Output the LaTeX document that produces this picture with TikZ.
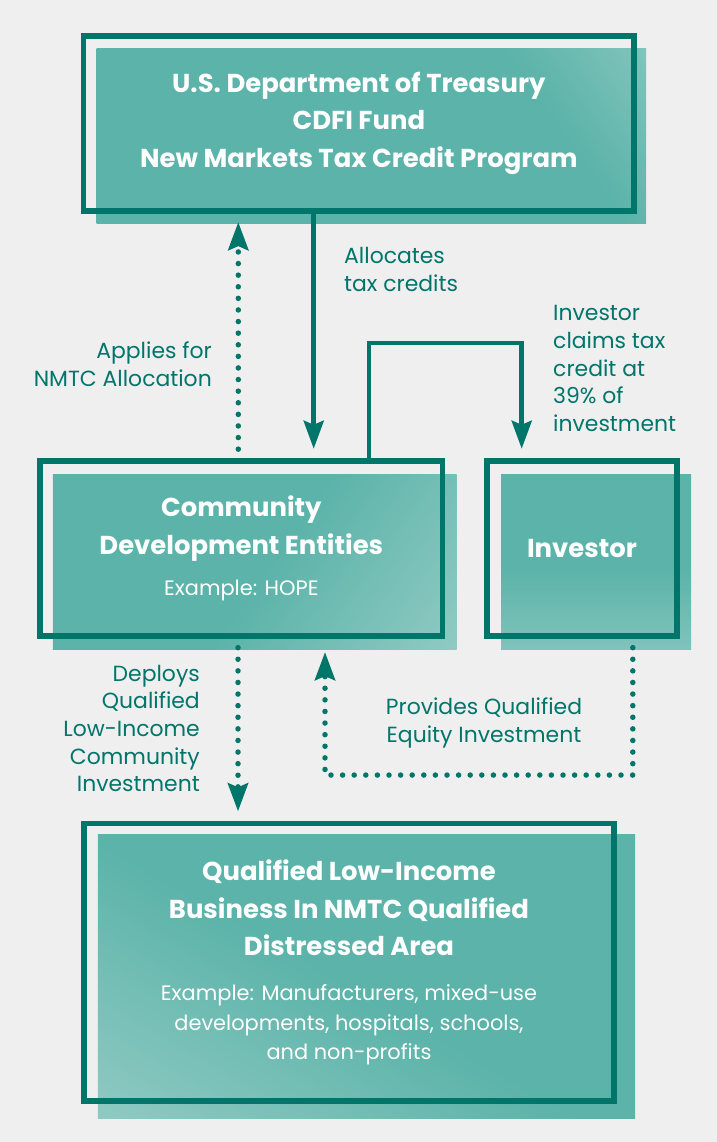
\documentclass[tikz,border=0pt]{standalone}
\usepackage{fontspec}
\setmainfont{Poppins}
\usepackage{tikz}
\usetikzlibrary{arrows.meta,positioning,backgrounds}
\definecolor{nmdark}{HTML}{00756A}
\definecolor{nmfill}{HTML}{5BB3A9}
\definecolor{nmlight}{HTML}{A8D5CF}
\definecolor{nmbg}{HTML}{EFEFEF}
\pgfdeclarehorizontalshading{panelfade}{100bp}{color(0bp)=(nmfill); color(52bp)=(nmfill); color(100bp)=(nmlight)}
\pgfdeclarehorizontalshading{panelcorner}{100bp}{color(0bp)=(nmfill); color(70bp)=(nmfill); color(100bp)=(nmlight)}
\newcommand{\exfont}{\fontsize{21}{29.5}\selectfont\mdseries}

\begin{document}
\begin{tikzpicture}[x=1bp,y=1bp,
   panel/.style={draw=nmdark,line width=5.5bp,outer sep=0pt,inner sep=0pt,align=center,
     text=white,font=\fontsize{26}{38}\selectfont\bfseries},
   note/.style={text=nmdark,inner sep=0pt,font=\fontsize{22}{27.75}\selectfont},
   flow/.style={draw=nmdark,line width=4.5bp,-{Stealth[length=28bp,width=20bp,inset=4bp]}},
   dots/.style={flow,line width=5.5bp,line cap=round,dash pattern=on 0bp off 11.6bp}]
  \begin{scope}[on background layer]
    \fill[nmbg] (0,0) rectangle (717,-1142);
  \end{scope}
  \useasboundingbox (0,0) rectangle (717,-1142);

  % the four boxes
  \node[panel,minimum width=550.3bp,minimum height=175.3bp] (top) at (358.9,-123.4)
       {U.S. Department of Treasury\\CDFI Fund\\New Markets Tax Credit Program};
  \node[panel,minimum width=402.7bp,minimum height=175.3bp] (cde) at (241.3,-548.4)
       {Community\\Development Entities\\[4bp]\exfont Example: HOPE};
  \node[panel,minimum width=190bp,minimum height=175.3bp] (inv) at (582,-548.4) {Investor};
  \node[panel,minimum width=530bp,minimum height=277.7bp] (low) at (349,-962.2)
       {Qualified Low-Income\\Business In NMTC Qualified\\Distressed Area\\[7bp]
        \exfont Example: Manufacturers, mixed-use\\[-8.5bp]
        \exfont developments, hospitals, schools,\\[-8.5bp]\exfont and non-profits};

  % offset fills behind the outlines
  \begin{scope}[on background layer]
    \shade[shading=panelcorner,shading angle=35] ([shift={(13,-12.5)}]top.north west) rectangle ([shift={(12,-12)}]top.south east);
    \shade[shading=panelfade,shading angle=-35] ([shift={(13,-13.3)}]cde.north west) rectangle ([shift={(14,-13)}]cde.south east);
    \shade[shading=panelfade,shading angle=-90] ([shift={(14,-13.3)}]inv.north west) rectangle ([shift={(14,-13)}]inv.south east);
    \shade[shading=panelfade,shading angle=-120] ([shift={(14,-11.4)}]low.north west) rectangle ([shift={(21,-17)}]low.south east);
  \end{scope}

  % arrows
  \draw[flow,shorten >=12bp] (top.south -| 313.7,0) -- (cde.north -| 313.7,0);
  \draw[dots,shorten >=11bp] (cde.north -| 238.3,0) -- (top.south -| 238.3,0);
  \draw[flow,shorten >=12bp] (cde.north -| 369,0) -- ++(0,118) -| (inv.north -| 521.7,0);
  \draw[dots,shorten >=12bp] (cde.south -| 238,0) -- (low.north -| 238,0);
  \draw[dots,shorten >=16bp] (inv.south -| 632.8,0) -- ++(0,-139) -| (cde.south -| 325,0);

  % labels
  \node[note,anchor=west,align=left] (alloc) at (344,-269.5) {Allocates\\tax credits};
  \node[note,anchor=east,align=right] (apply) at (212,-364) {Applies for\\NMTC Allocation};
  \node[note,anchor=west,align=left] (claim) at (553,-368.5)
       {Investor\\claims tax\\credit at\\39\% of\\investment};
  \node[note,anchor=east,align=right] (deploy) at (200,-728.5)
       {Deploys\\Qualified\\Low-Income\\Community\\Investment};
  \node[note,align=center] (equity) at (484,-723) {Provides Qualified\\Equity Investment};
\end{tikzpicture}
\end{document}
